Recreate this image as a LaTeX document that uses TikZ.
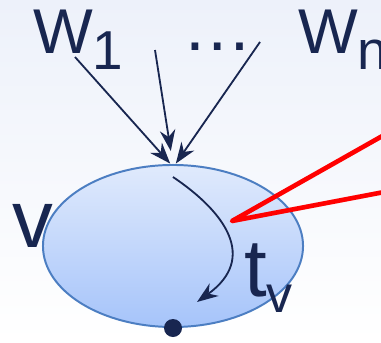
\documentclass[tikz,border=0pt]{standalone}
\usepackage{fontspec}
\setmainfont{Liberation Sans}
\usetikzlibrary{
  arrows.meta,
  positioning,
  shapes.geometric
}
\definecolor{ink}{RGB}{24,38,80}
\definecolor{rim}{RGB}{76,126,194}
\definecolor{celltop}{RGB}{224,234,252}
\definecolor{cellbot}{RGB}{166,196,250}
\definecolor{bgtop}{RGB}{237,241,250}

\begin{document}
\begin{tikzpicture}[
  x=0.025cm, y=-0.025cm,
  every node/.style={inner sep=0pt, outer sep=0pt, text=ink},
  inlabel/.style={font=\fontsize{45}{54}\selectfont, anchor=base west},
  varlabel/.style={font=\fontsize{58}{66}\selectfont, anchor=base west},
  cellshape/.style={ellipse, draw=rim, line width=1.4pt, top color=celltop,
               bottom color=cellbot, minimum width=6.5cm, minimum height=4.05cm},
  wire/.style={-{Stealth[length=15pt, width=11pt]}, draw=ink, line width=1.3pt},
  callout/.style={draw=red, line width=3.3pt, line join=round},
  >=Stealth
]

% background
\fill[top color=bgtop, bottom color=white] (0,0) rectangle (381,342);
\useasboundingbox (0,0) rectangle (381,342);

\node[cellshape] (cell) at (173,246) {};
\node[circle, fill=ink, minimum size=0.45cm] (sink) at (173,328) {};

% inputs
\node[inlabel] (w1) at (33,53) {W\raisebox{-12pt}{\fontsize{39}{39}\selectfont 1}};
\node[inlabel] (wn) at (298,53) {W\raisebox{-12pt}{\fontsize{39}{39}\selectfont n}};
\node[inlabel, font=\fontsize{50}{56}\selectfont] (dots) at (182,50) {…};

\node[varlabel] (v) at (12,247) {v};
\node[varlabel] (tv) at (244,296) {t\raisebox{-11.5pt}{\fontsize{37}{37}\selectfont v}};

\coordinate (w1 out) at (75,57);
\coordinate (mid out) at (155,50);
\coordinate (wn out) at (260,42);

\draw[wire] (w1 out) -- ([xshift=-2pt, yshift=1pt]cell.north);
\draw[wire, shorten >=10pt] (mid out) -- (cell.north);
\draw[wire] (wn out) -- ([xshift=2pt, yshift=1pt]cell.north);

% time inside v
\coordinate (flow in) at (173,177);
\coordinate (flow out) at (197,302);
\draw[wire] (flow in) .. controls (225,212) and (258,258) .. (flow out);

% callout
\coordinate (pin) at (232,221);
\coordinate (c1) at (400,126);
\coordinate (c2) at (400,189);
\draw[callout] (c1) -- (pin) -- (c2);

\end{tikzpicture}
\end{document}
